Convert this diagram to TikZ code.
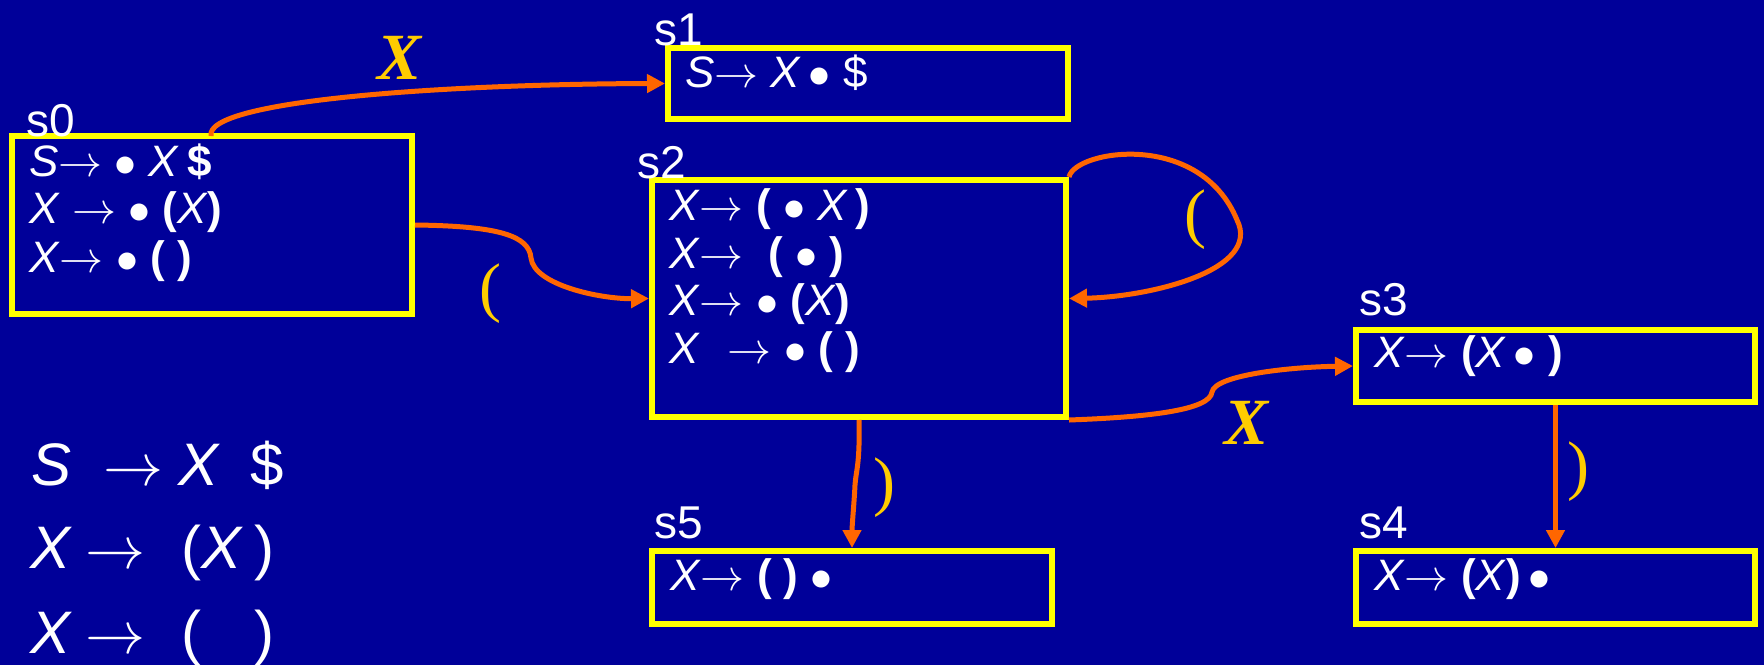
\RequirePackage{fix-cm}
\documentclass[tikz,border=0pt]{standalone}
\usepackage{fontspec}
\setmainfont{Liberation Sans}
\newfontfamily\lserif{Liberation Serif}
\usetikzlibrary{arrows.meta}
\definecolor{bg}{HTML}{000099}
\definecolor{boxy}{HTML}{FFFF00}
\definecolor{arr}{HTML}{FF6600}
\definecolor{lab}{HTML}{FFCC00}
\newcommand{\myit}[1]{\textit{#1}}
\newcommand{\mybf}[1]{\textbf{#1}}
\newcommand{\myarr}{$\rightarrow$}
\newcommand{\myb}{$\bullet$}
\begin{document}
\begin{tikzpicture}[x=1pt,y=-1pt,
  state/.style={draw=boxy, line width=6pt, rectangle, inner sep=0pt},
  item/.style={text=white, font=\fontsize{44}{50}\selectfont, anchor=base west, inner sep=0pt, text height=32pt},
  slabel/.style={text=white, font=\fontsize{46}{50}\selectfont, anchor=base west, inner sep=0pt, text depth=0pt},
  gram/.style={text=white, font=\fontsize{60}{66}\selectfont, anchor=base west, inner sep=0pt},
  edge/.style={draw=arr, line width=5pt, -{Triangle[length=18pt,width=18pt]}},
  elabel/.style={text=lab, font=\lserif\fontsize{66}{72}\selectfont, inner sep=0pt}]
\fill[bg] (0,0) rectangle (1764,665);
\useasboundingbox (0,0) rectangle (1764,665);
% states
\node[state, minimum width=400pt, minimum height=178pt] (s0) at (212,225) {};
\node[state, minimum width=400pt, minimum height=71pt] (s1) at (868,83.5) {};
\node[state, minimum width=414pt, minimum height=237pt] (s2) at (859,298.5) {};
\node[state, minimum width=399pt, minimum height=72pt] (s3) at (1555.5,366) {};
\node[state, minimum width=399pt, minimum height=73pt] (s4) at (1555.5,587.5) {};
\node[state, minimum width=400pt, minimum height=73pt] (s5) at (852,587.5) {};
% state names
\node[slabel] (l0) at (26,136) {s0};
\node[slabel] (l1) at (654,45) {s1};
\node[slabel] (l2) at (637,178) {s2};
\node[slabel] (l3) at (1359,315) {s3};
\node[slabel] (l4) at (1359,538) {s4};
\node[slabel] (l5) at (654,538) {s5};
% items
\node[item] (i01) at (29,176) {\myit{S}\myarr\ \myb\ \myit{X}\,\mybf{\$}};
\node[item] (i02) at (29,223) {\myit{X}\ \myarr\ \myb\ \mybf{(}\myit{X}\mybf{)}};
\node[item] (i03) at (29,272) {\myit{X}\myarr\ \myb\ \mybf{( )}};
\node[item] (i11) at (685,87) {\myit{S}\myarr\ \myit{X}\,\myb\ \$};
\node[item] (i21) at (669,220) {\myit{X}\myarr\ \mybf{(} \myb\ \myit{X}\,\mybf{)}};
\node[item] (i22) at (669,268) {\myit{X}\myarr\ \ \mybf{(} \myb\ \mybf{)}};
\node[item] (i23) at (669,315) {\myit{X}\myarr\ \myb\ \mybf{(}\myit{X}\mybf{)}};
\node[item] (i24) at (669,363) {\myit{X}\hspace{28pt}\myarr\ \myb\ \mybf{( )}};
\node[item] (i31) at (1374,367) {\myit{X}\myarr\ \mybf{(}\myit{X}\,\myb\ \mybf{)}};
\node[item] (i41) at (1374,590) {\myit{X}\myarr\ \mybf{(}\myit{X}\mybf{)}\,\myb};
\node[item] (i51) at (670,590) {\myit{X}\myarr\ \mybf{( )}\ \myb};
% grammar
\node[gram] (g1) at (31,485) {\rlap{\myit{S}}\hspace{72pt}\rlap{\myarr}\hspace{75pt}\rlap{\myit{X}}\hspace{72pt}\$};
\node[gram] (g2) at (30,568) {\rlap{\myit{X}}\hspace{55pt}\rlap{\myarr}\hspace{96pt}\rlap{(}\hspace{20pt}\rlap{\myit{X}}\hspace{53pt})};
\node[gram] (g3) at (30,653) {\rlap{\myit{X}}\hspace{55pt}\rlap{\myarr}\hspace{96pt}\rlap{(}\hspace{73pt})};
% connectors
\coordinate (a0) at (211,136);
\draw[edge] (a0) .. controls (204,100) and (450,84) .. (s1.west);
\node[elabel] (x01) at (400,58) {\textbf{\textit{X}}};
\coordinate (w02) at (531,258);
\draw[edge] (s0.east |- 0,225) .. controls (500,226) and (529,236) .. (w02)
  .. controls (534,285) and (600,299) .. (s2.west);
\node[elabel] (x02) at (490,294) {(};
\coordinate (w22) at (1237,220);
\draw[edge] (s2.north east) .. controls (1075,150) and (1200,130) .. (w22)
  .. controls (1262,270) and (1150,297) .. (s2.east);
\node[elabel] (x22) at (1195,220) {(};
\coordinate (w23) at (1212,392);
\draw[edge] (s2.south east) .. controls (1150,417) and (1210,410) .. (w23)
  .. controls (1215,375) and (1290,367) .. (s3.west);
\node[elabel] (x23) at (1247,423) {\textbf{\textit{X}}};
\coordinate (w25) at (855,485);
\draw[edge] (s2.south) .. controls (860,465) and (856,470) .. (w25)
  .. controls (854,505) and (852,525) .. (s5.north);
\node[elabel] (x25) at (884,488) {)};
\draw[edge] (s3.south) -- (s4.north);
\node[elabel] (x34) at (1578,472) {)};
\end{tikzpicture}
\end{document}
